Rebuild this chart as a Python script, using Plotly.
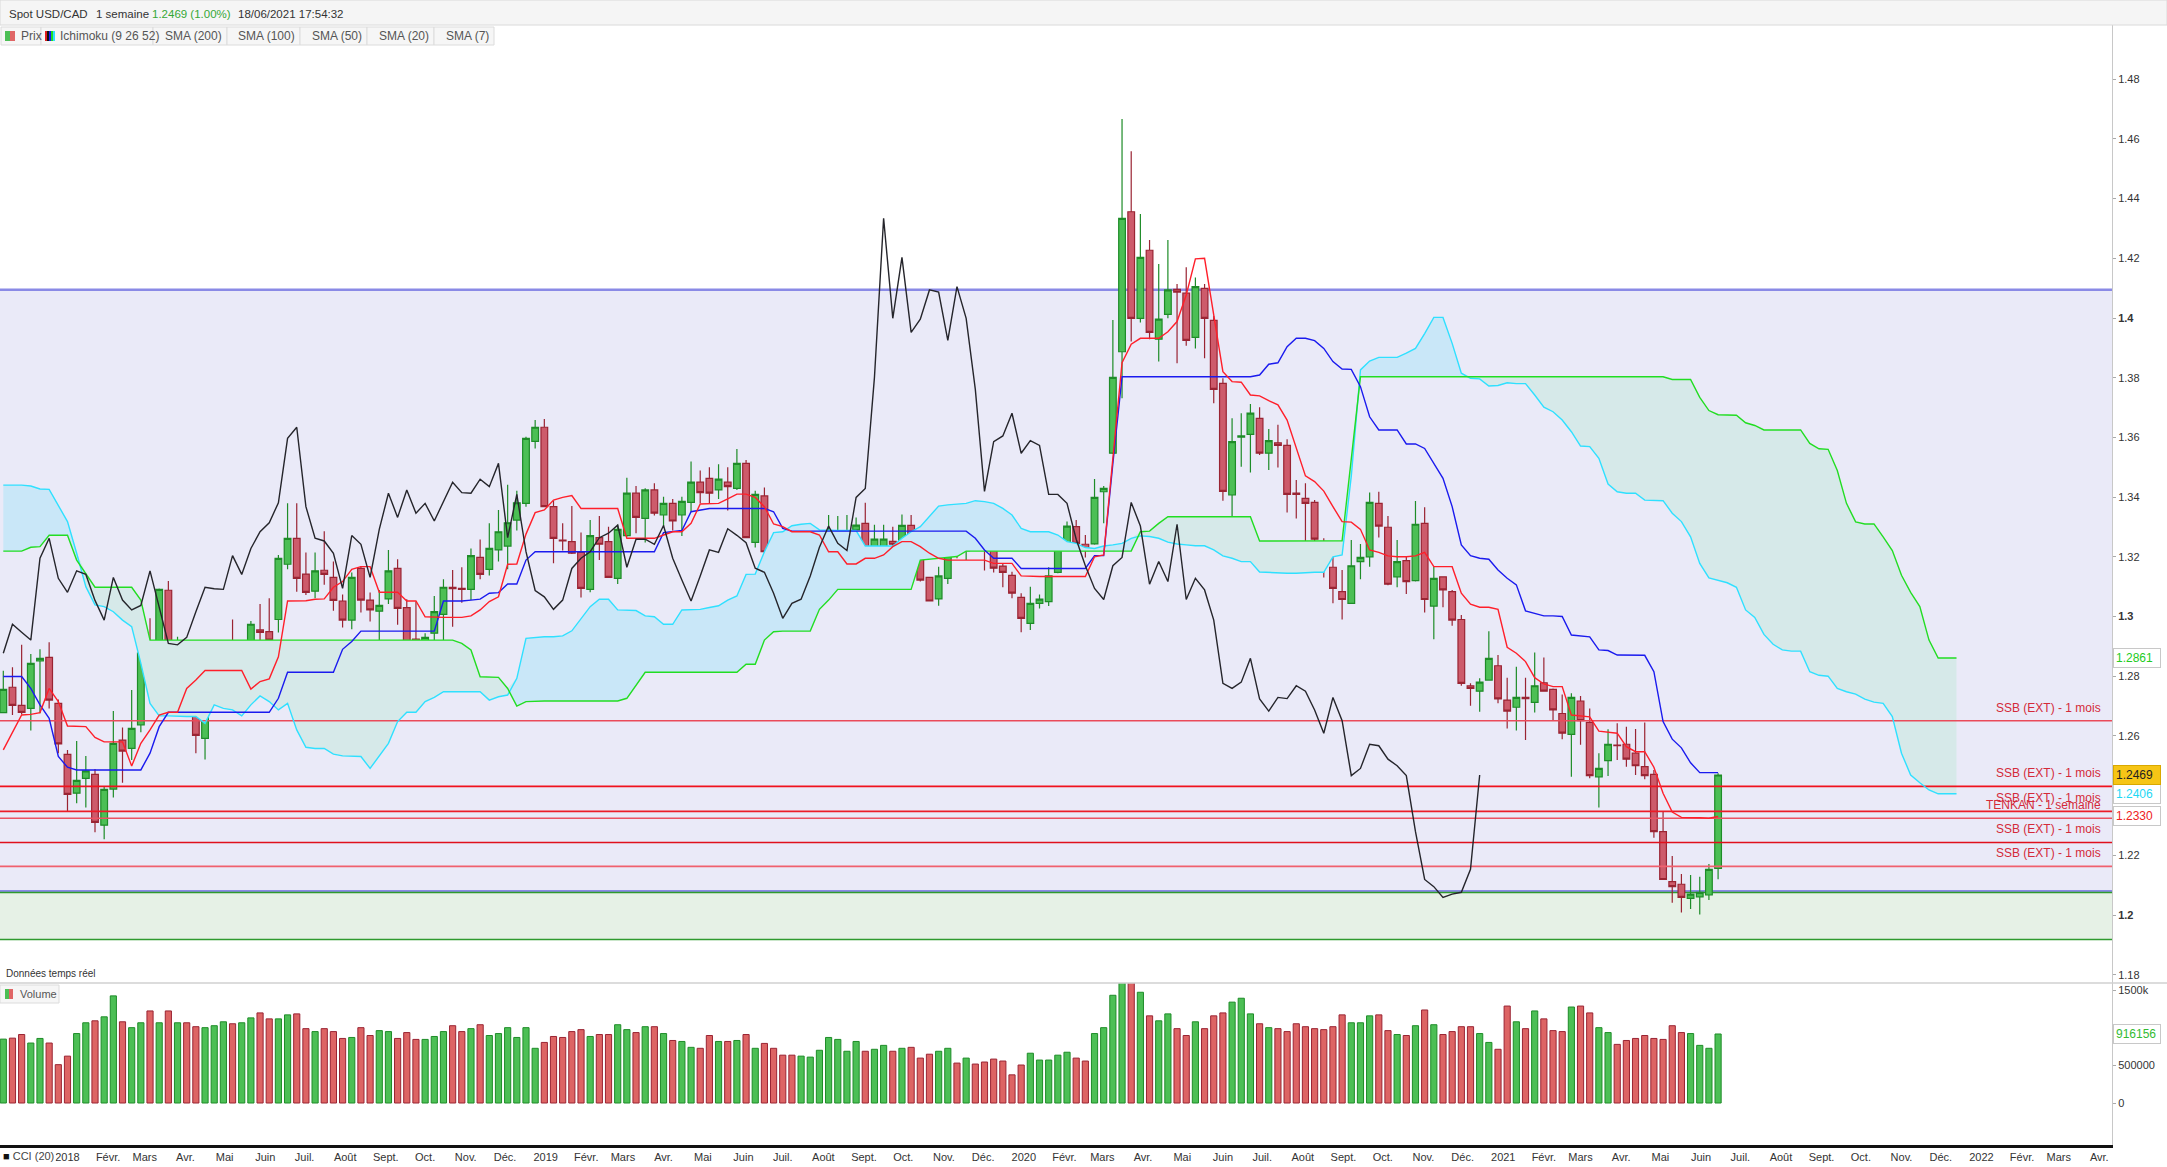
import pandas as pd
import plotly.graph_objects as go

# ---------------- DATA (weekly USD/CAD) ----------------
week_start = "2017-11-13"

opens = [1.2678,1.2763,1.2702,1.2692,1.2851,1.2863,1.2709,1.2538,1.2408,1.2458,
         1.2471,1.2301,1.2422,1.2586,1.2558,1.2637,1.2882,1.2806,1.3088,1.2877,
         1.2890,1.2759,1.2592,1.2745,1.2832,1.2843,1.2776,1.2870,1.2955,1.2949,
         1.2990,1.3175,1.3262,1.3142,1.3085,1.3155,1.3131,1.3052,1.2988,1.3161,
         1.3055,1.3018,1.3059,1.3161,1.3030,1.2924,1.2843,1.2944,1.3007,1.3098,
         1.3094,1.3091,1.3198,1.3158,1.3223,1.3236,1.3323,1.3379,1.3587,1.3634,
         1.3368,1.3256,1.3251,1.3215,1.3091,1.3264,1.3251,1.3128,1.3271,1.3413,
         1.3329,1.3424,1.3340,1.3379,1.3340,1.3382,1.3450,1.3463,1.3424,1.3450,
         1.3429,1.3513,1.3248,1.3404,1.3212,1.3074,1.3066,1.3027,1.3055,1.3161,
         1.3204,1.3217,1.3259,1.3290,1.3312,1.3169,1.3212,1.3252,1.3234,1.3305,
         1.3194,1.3131,1.3059,1.3128,1.3220,1.3220,1.3289,1.3272,1.3245,1.3169,
         1.3138,1.3064,1.2977,1.3044,1.3050,1.3148,1.3225,1.3301,1.3242,1.3243,
         1.3418,1.3547,1.3887,1.4356,1.3999,1.4227,1.3929,1.4012,1.4096,1.4083,
         1.3935,1.4099,1.3992,1.3781,1.3407,1.3601,1.3610,1.3664,1.3547,1.3582,
         1.3573,1.3413,1.3396,1.3382,1.3251,1.3165,1.3083,1.3044,1.3184,1.3200,
         1.3379,1.3299,1.3133,1.3187,1.3120,1.3312,1.3035,1.3133,1.3083,1.2990,
         1.2768,1.2750,1.2787,1.2835,1.2720,1.2696,1.2729,1.2712,1.2778,1.2756,
         1.2675,1.2605,1.2717,1.2645,1.2463,1.2517,1.2569,1.2572,1.2542,1.2497,
         1.2471,1.2279,1.2112,1.2103,1.2056,1.2061,1.2067,1.2156]

highs = [1.2818,1.2830,1.2905,1.2874,1.2890,1.2914,1.2722,1.2553,1.2583,1.2533,
         1.2489,1.2430,1.2683,1.2628,1.2754,1.2910,1.2994,1.3094,1.3119,1.2932,
         1.2921,1.2812,1.2765,1.2893,1.2910,1.2990,1.2919,1.2985,1.3042,1.3061,
         1.3206,1.3379,1.3379,1.3214,1.3214,1.3286,1.3184,1.3074,1.3147,1.3169,
         1.3080,1.3089,1.3223,1.3192,1.3058,1.3050,1.2944,1.3069,1.3125,1.3156,
         1.3165,1.3228,1.3258,1.3312,1.3357,1.3441,1.3421,1.3602,1.3658,1.3662,
         1.3388,1.3312,1.3370,1.3281,1.3323,1.3337,1.3301,1.3307,1.3465,1.3437,
         1.3430,1.3446,1.3401,1.3394,1.3401,1.3519,1.3489,1.3500,1.3510,1.3500,
         1.3561,1.3524,1.3421,1.3432,1.3216,1.3139,1.3139,1.3089,1.3195,1.3264,
         1.3340,1.3337,1.3340,1.3332,1.3381,1.3307,1.3307,1.3301,1.3342,1.3340,
         1.3234,1.3133,1.3167,1.3228,1.3265,1.3323,1.3312,1.3318,1.3256,1.3178,
         1.3150,1.3078,1.3100,1.3074,1.3165,1.3247,1.3318,1.3323,1.3273,1.3461,
         1.3437,1.3993,1.4667,1.4559,1.4348,1.4261,1.4181,1.4261,1.4114,1.4170,
         1.4136,1.4114,1.4007,1.3798,1.3664,1.3681,1.3712,1.3701,1.3628,1.3642,
         1.3594,1.3457,1.3446,1.3390,1.3262,1.3236,1.3156,1.3256,1.3243,1.3415,
         1.3418,1.3337,1.3256,1.3200,1.3387,1.3366,1.3167,1.3135,1.3089,1.3005,
         1.2776,1.2793,1.2951,1.2871,1.2795,1.2832,1.2795,1.2879,1.2863,1.2759,
         1.2739,1.2743,1.2734,1.2692,1.2542,1.2622,1.2642,1.2631,1.2623,1.2645,
         1.2486,1.2346,1.2198,1.2137,1.2134,1.2128,1.2171,1.2475]

lows = [1.2676,1.2670,1.2672,1.2618,1.2676,1.2692,1.2542,1.2348,1.2374,1.2360,
        1.2277,1.2254,1.2394,1.2443,1.2519,1.2612,1.2787,1.2798,1.2821,1.2810,
        1.2726,1.2542,1.2521,1.2743,1.2765,1.2726,1.2745,1.2739,1.2854,1.2852,
        1.2946,1.3158,1.3083,1.3072,1.3061,1.3106,1.3019,1.2963,1.2957,1.3013,
        1.2983,1.2882,1.3042,1.2972,1.2882,1.2843,1.2778,1.2921,1.2912,1.2966,
        1.3046,1.3055,1.3125,1.3137,1.3184,1.3158,1.3288,1.3368,1.3563,1.3366,
        1.3178,1.3221,1.3209,1.3064,1.3081,1.3189,1.3129,1.3109,1.3267,1.3279,
        1.3248,1.3338,1.3303,1.3288,1.3270,1.3351,1.3379,1.3379,1.3394,1.3355,
        1.3424,1.3262,1.3231,1.3145,1.3055,1.3035,1.3013,1.3013,1.3035,1.3100,
        1.3180,1.3180,1.3221,1.3221,1.3154,1.3128,1.3195,1.3206,1.3201,1.3167,
        1.3117,1.3050,1.3036,1.3109,1.3195,1.3189,1.3245,1.3154,1.3147,1.3098,
        1.3061,1.2947,1.2955,1.3027,1.3035,1.3145,1.3223,1.3232,1.3198,1.3240,
        1.3312,1.3544,1.3731,1.3921,1.3985,1.3929,1.3854,1.3999,1.3848,1.3907,
        1.3898,1.3865,1.3714,1.3388,1.3312,1.3502,1.3482,1.3541,1.3491,1.3499,
        1.3348,1.3328,1.3228,1.3187,1.3131,1.3044,1.2990,1.3042,1.3125,1.3167,
        1.3265,1.3105,1.3098,1.3075,1.3117,1.3013,1.2924,1.3031,1.2969,1.2768,
        1.2701,1.2681,1.2785,1.2709,1.2625,1.2618,1.2586,1.2678,1.2748,1.2653,
        1.2589,1.2463,1.2570,1.2458,1.2360,1.2466,1.2519,1.2497,1.2469,1.2455,
        1.2259,1.2117,1.2041,1.2008,1.2020,1.2002,1.2050,1.2120]

closes = [1.2756,1.2702,1.2679,1.2843,1.2860,1.2720,1.2573,1.2404,1.2451,1.2483,
          1.2310,1.2421,1.2575,1.2549,1.2625,1.2877,1.2804,1.3091,1.2890,1.2893,
          1.2776,1.2602,1.2759,1.2823,1.2840,1.2789,1.2877,1.2974,1.2947,1.2921,
          1.3195,1.3262,1.3128,1.3081,1.3153,1.3141,1.3054,1.2988,1.3131,1.3055,
          1.3022,1.3037,1.3153,1.3027,1.2910,1.2905,1.2930,1.3016,1.3098,1.3093,
          1.3091,1.3204,1.3141,1.3228,1.3284,1.3314,1.3381,1.3597,1.3634,1.3368,
          1.3262,1.3253,1.3212,1.3094,1.3271,1.3242,1.3131,1.3292,1.3413,1.3332,
          1.3424,1.3346,1.3379,1.3320,1.3386,1.3450,1.3415,1.3413,1.3460,1.3435,
          1.3513,1.3264,1.3409,1.3217,1.3087,1.3066,1.3024,1.3055,1.3161,1.3195,
          1.3217,1.3264,1.3279,1.3306,1.3165,1.3259,1.3259,1.3242,1.3305,1.3195,
          1.3122,1.3052,1.3136,1.3223,1.3215,1.3294,1.3272,1.3247,1.3162,1.3148,
          1.3078,1.2994,1.3044,1.3058,1.3136,1.3232,1.3303,1.3245,1.3221,1.3399,
          1.3429,1.3801,1.4334,1.3999,1.4203,1.3952,1.3996,1.4094,1.4087,1.3925,
          1.4105,1.3999,1.3761,1.3419,1.3586,1.3605,1.3681,1.3547,1.3589,1.3573,
          1.3409,1.3409,1.3379,1.3259,1.3170,1.3094,1.3057,1.3170,1.3198,1.3382,
          1.3303,1.3108,1.3184,1.3117,1.3309,1.3057,1.3128,1.3089,1.2988,1.2776,
          1.2759,1.2780,1.2860,1.2724,1.2683,1.2729,1.2725,1.2768,1.2750,1.2687,
          1.2609,1.2729,1.2651,1.2467,1.2491,1.2572,1.2567,1.2522,1.2500,1.2467,
          1.2279,1.2119,1.2095,1.2059,1.2070,1.2076,1.2153,1.2469]

volumes = [848000,861000,909000,796000,857000,796000,509000,622000,922000,1065000,
           1091000,1144000,1422000,1078000,1000000,1065000,1222000,1065000,1222000,1065000,
           1065000,1013000,1000000,1026000,1078000,1052000,1065000,1130000,1196000,1117000,
           1117000,1170000,1183000,987000,948000,987000,948000,857000,870000,1000000,
           896000,961000,948000,857000,935000,844000,844000,883000,948000,1026000,
           948000,987000,1039000,896000,922000,1000000,870000,1000000,726000,804000,
           883000,870000,948000,974000,883000,909000,909000,1039000,974000,935000,
           1013000,1013000,922000,830000,817000,739000,726000,896000,817000,817000,
           830000,909000,726000,791000,726000,635000,635000,622000,609000,700000,
           870000,844000,687000,817000,687000,713000,765000,687000,726000,739000,
           596000,648000,687000,726000,530000,596000,517000,544000,583000,557000,
           374000,504000,661000,570000,570000,635000,674000,596000,557000,922000,
           1000000,1430000,1700000,1680000,1470000,1157000,1091000,1183000,987000,896000,
           1078000,987000,1157000,1196000,1339000,1391000,1183000,1052000,1000000,987000,
           948000,1052000,1013000,987000,974000,1013000,1170000,1065000,1065000,1157000,
           1170000,961000,909000,896000,1026000,1235000,1039000,909000,948000,1013000,
           1013000,922000,804000,713000,1287000,1078000,987000,1222000,1117000,961000,
           948000,1274000,1287000,1196000,1000000,935000,778000,830000,857000,896000,
           857000,844000,1026000,935000,922000,765000,726000,916156]

tenkan = [1.2553,1.2614,1.2670,1.2672,1.2678,1.2759,1.2715,1.2633,1.2633,1.2631,
          1.2595,1.2580,1.2580,1.2580,1.2499,1.2575,1.2620,1.2670,1.2679,1.2679,
          1.2759,1.2787,1.2819,1.2819,1.2819,1.2819,1.2819,1.2757,1.2782,1.2791,
          1.2865,1.3052,1.3053,1.3053,1.3058,1.3059,1.3098,1.3117,1.3158,1.3167,
          1.3167,1.3081,1.3081,1.3081,1.3052,1.3052,1.2999,1.2997,1.2997,1.2997,
          1.2997,1.3002,1.3022,1.3050,1.3066,1.3175,1.3176,1.3276,1.3348,1.3357,
          1.3390,1.3399,1.3405,1.3362,1.3362,1.3362,1.3362,1.3362,1.3262,1.3262,
          1.3262,1.3262,1.3273,1.3284,1.3284,1.3312,1.3377,1.3379,1.3379,1.3394,
          1.3410,1.3410,1.3399,1.3368,1.3310,1.3301,1.3284,1.3284,1.3284,1.3273,
          1.3217,1.3217,1.3176,1.3176,1.3195,1.3195,1.3206,1.3234,1.3251,1.3251,
          1.3234,1.3212,1.3195,1.3189,1.3189,1.3189,1.3189,1.3189,1.3178,1.3178,
          1.3178,1.3136,1.3134,1.3134,1.3134,1.3134,1.3134,1.3134,1.3134,1.3200,
          1.3206,1.3530,1.3850,1.3912,1.3932,1.3932,1.3932,1.3954,1.3988,1.4077,
          1.4198,1.4200,1.4004,1.3820,1.3787,1.3785,1.3742,1.3739,1.3723,1.3709,
          1.3658,1.3563,1.3471,1.3452,1.3420,1.3368,1.3318,1.3316,1.3292,1.3223,
          1.3215,1.3203,1.3200,1.3200,1.3203,1.3215,1.3167,1.3167,1.3167,1.3078,
          1.3041,1.3031,1.3031,1.3024,1.2897,1.2877,1.2849,1.2795,1.2774,1.2765,
          1.2765,1.2670,1.2667,1.2664,1.2616,1.2612,1.2609,1.2564,1.2547,1.2547,
          1.2495,1.2408,1.2345,1.2327,1.2327,1.2326,1.2324,1.2330]

kijun = [1.2799,1.2799,1.2799,1.2759,1.2704,1.2659,1.2531,1.2495,1.2486,1.2486,
         1.2486,1.2486,1.2486,1.2486,1.2486,1.2486,1.2542,1.2631,1.2679,1.2679,
         1.2679,1.2679,1.2679,1.2679,1.2679,1.2679,1.2679,1.2679,1.2679,1.2679,
         1.2726,1.2813,1.2813,1.2813,1.2813,1.2813,1.2813,1.2890,1.2916,1.2951,
         1.2951,1.2951,1.2951,1.2951,1.2951,1.2951,1.2951,1.2951,1.3052,1.3052,
         1.3052,1.3055,1.3058,1.3078,1.3080,1.3109,1.3109,1.3189,1.3217,1.3217,
         1.3217,1.3217,1.3217,1.3217,1.3217,1.3217,1.3217,1.3217,1.3217,1.3217,
         1.3217,1.3217,1.3281,1.3284,1.3288,1.3351,1.3357,1.3362,1.3362,1.3362,
         1.3362,1.3362,1.3362,1.3362,1.3351,1.3295,1.3286,1.3286,1.3286,1.3286,
         1.3286,1.3286,1.3286,1.3286,1.3286,1.3286,1.3286,1.3286,1.3286,1.3286,
         1.3286,1.3286,1.3286,1.3286,1.3286,1.3286,1.3262,1.3223,1.3195,1.3195,
         1.3195,1.3161,1.3161,1.3161,1.3161,1.3161,1.3161,1.3161,1.3161,1.3204,
         1.3204,1.3513,1.3803,1.3803,1.3803,1.3803,1.3803,1.3803,1.3803,1.3803,
         1.3803,1.3803,1.3803,1.3803,1.3803,1.3803,1.3803,1.3809,1.3845,1.3850,
         1.3904,1.3932,1.3932,1.3924,1.3898,1.3854,1.3829,1.3828,1.3770,1.3669,
         1.3625,1.3625,1.3625,1.3578,1.3578,1.3563,1.3513,1.3463,1.3368,1.3240,
         1.3204,1.3195,1.3192,1.3156,1.3128,1.3106,1.3019,1.3011,1.3002,1.3002,
         1.3000,1.2938,1.2936,1.2932,1.2888,1.2886,1.2871,1.2870,1.2870,1.2870,
         1.2815,1.2648,1.2589,1.2560,1.2510,1.2477,1.2477,1.2477]

senkou_a = [1.3440,1.3440,1.3440,1.3437,1.3427,1.3426,1.3374,1.3318,1.3212,1.3100,
            1.3039,1.3033,1.3016,1.2988,1.2966,1.2843,1.2709,1.2667,1.2667,1.2665,
            1.2665,1.2665,1.2642,1.2704,1.2692,1.2687,1.2667,1.2704,1.2734,1.2715,
            1.2687,1.2709,1.2620,1.2562,1.2558,1.2558,1.2539,1.2533,1.2533,1.2531,
            1.2491,1.2531,1.2575,1.2648,1.2679,1.2679,1.2715,1.2729,1.2748,1.2748,
            1.2748,1.2748,1.2748,1.2720,1.2731,1.2737,1.2793,1.2927,1.2930,1.2932,
            1.2932,1.2935,1.2952,1.2994,1.3033,1.3058,1.3058,1.3022,1.3020,1.3020,
            1.3002,1.2999,1.2974,1.2974,1.3022,1.3024,1.3024,1.3030,1.3036,1.3055,
            1.3069,1.3141,1.3142,1.3217,1.3281,1.3284,1.3304,1.3309,1.3312,1.3290,
            1.3288,1.3288,1.3288,1.3288,1.3236,1.3236,1.3236,1.3236,1.3262,1.3284,
            1.3301,1.3334,1.3370,1.3374,1.3376,1.3379,1.3388,1.3385,1.3379,1.3362,
            1.3340,1.3295,1.3284,1.3284,1.3284,1.3273,1.3251,1.3245,1.3231,1.3228,
            1.3236,1.3240,1.3245,1.3262,1.3270,1.3268,1.3262,1.3249,1.3243,1.3240,
            1.3237,1.3237,1.3223,1.3203,1.3195,1.3184,1.3184,1.3149,1.3147,1.3147,
            1.3145,1.3145,1.3147,1.3148,1.3148,1.3200,1.3206,1.3470,1.3826,1.3856,
            1.3868,1.3868,1.3868,1.3882,1.3898,1.3948,1.4002,1.4002,1.3915,1.3815,
            1.3798,1.3796,1.3772,1.3774,1.3783,1.3780,1.3780,1.3742,1.3701,1.3686,
            1.3658,1.3619,1.3571,1.3569,1.3530,1.3444,1.3418,1.3413,1.3413,1.3390,
            1.3390,1.3388,1.3346,1.3318,1.3267,1.3178,1.3129,1.3120,1.3113,1.3098,
            1.3022,1.2997,1.2940,1.2907,1.2888,1.2884,1.2884,1.2815,1.2803,1.2800,
            1.2759,1.2748,1.2740,1.2723,1.2713,1.2709,1.2665,1.2542,1.2469,1.2443,
            1.2419,1.2406,1.2406,1.2406]

senkou_b = [1.3219,1.3219,1.3219,1.3232,1.3234,1.3272,1.3272,1.3272,1.3189,1.3145,
            1.3098,1.3098,1.3098,1.3098,1.3098,1.3055,1.2921,1.2921,1.2921,1.2921,
            1.2921,1.2921,1.2921,1.2921,1.2921,1.2921,1.2921,1.2921,1.2921,1.2921,
            1.2921,1.2921,1.2921,1.2921,1.2921,1.2921,1.2921,1.2921,1.2921,1.2921,
            1.2921,1.2921,1.2921,1.2921,1.2921,1.2921,1.2921,1.2921,1.2921,1.2921,
            1.2910,1.2888,1.2798,1.2798,1.2796,1.2759,1.2700,1.2715,1.2717,1.2717,
            1.2717,1.2717,1.2717,1.2717,1.2717,1.2717,1.2717,1.2717,1.2726,1.2771,
            1.2813,1.2813,1.2813,1.2813,1.2813,1.2813,1.2813,1.2813,1.2813,1.2813,
            1.2813,1.2840,1.2840,1.2921,1.2949,1.2951,1.2951,1.2951,1.2951,1.3024,
            1.3055,1.3091,1.3091,1.3091,1.3091,1.3091,1.3091,1.3091,1.3091,1.3091,
            1.3189,1.3192,1.3195,1.3198,1.3201,1.3219,1.3219,1.3219,1.3219,1.3219,
            1.3219,1.3219,1.3219,1.3219,1.3219,1.3219,1.3219,1.3219,1.3219,1.3219,
            1.3219,1.3219,1.3219,1.3219,1.3284,1.3286,1.3312,1.3334,1.3334,1.3334,
            1.3334,1.3334,1.3334,1.3334,1.3334,1.3334,1.3334,1.3253,1.3253,1.3253,
            1.3254,1.3254,1.3254,1.3254,1.3254,1.3254,1.3254,1.3528,1.3803,1.3803,
            1.3803,1.3803,1.3803,1.3803,1.3803,1.3803,1.3803,1.3803,1.3803,1.3803,
            1.3803,1.3803,1.3803,1.3803,1.3803,1.3803,1.3803,1.3803,1.3803,1.3803,
            1.3803,1.3803,1.3803,1.3803,1.3803,1.3803,1.3803,1.3803,1.3803,1.3803,
            1.3803,1.3803,1.3794,1.3794,1.3794,1.3734,1.3690,1.3676,1.3674,1.3674,
            1.3649,1.3640,1.3625,1.3625,1.3625,1.3625,1.3625,1.3580,1.3562,1.3560,
            1.3489,1.3379,1.3317,1.3310,1.3310,1.3267,1.3221,1.3138,1.3081,1.3033,
            1.2921,1.2861,1.2861,1.2861]

level_values = [1.2651, 1.2431, 1.2347, 1.2324, 1.2243, 1.2163]
level_labels = ["SSB (EXT) - 1 mois", "SSB (EXT) - 1 mois", "SSB (EXT) - 1 mois",
                "TENKAN - 1 semaine", "SSB (EXT) - 1 mois", "SSB (EXT) - 1 mois"]
level_colors = ["#ea4b5a", "#f0121e", "#ec1c28", "#ec5262", "#e0101c", "#f0606e"]

zone_top = 1.4095
zone_low = 1.2080
green_top = 1.2075
green_bottom = 1.1918

price_ticks = [1.18, 1.20, 1.22, 1.24, 1.26, 1.28, 1.30, 1.32, 1.34, 1.36, 1.38, 1.40, 1.42, 1.44, 1.46, 1.48]
price_tick_text = ["1.18", "<b>1.2</b>", "1.22", "1.24", "1.26", "1.28", "<b>1.3</b>", "1.32", "1.34",
                   "1.36", "1.38", "<b>1.4</b>", "1.42", "1.44", "1.46", "1.48"]
vol_ticks = [0, 500000, 1000000, 1500000]
vol_tick_text = ["0", "500000", "1000k", "1500k"]
months_fr = ["Janv.", "Févr.", "Mars", "Avr.", "Mai", "Juin", "Juil.", "Août", "Sept.", "Oct.", "Nov.", "Déc."]
chikou_shift = 26

header_parts = [("Spot USD/CAD", "#333333"), ("1 semaine", "#333333"),
                ("1.2469 (1.00%)", "#35a835"), ("18/06/2021 17:54:32", "#333333")]
header_x = [7, 94, 150, 236]

# ---------------- LAYOUT GEOMETRY (pixels) ----------------
W, H = 2167, 1167
PW, PH = 2112, 1145          # plot area (margin l=0,t=0,r=55,b=22)
SPLIT = 983                  # price / volume panel boundary
PX_PER_UNIT = 2985.0
Y148 = 79.2                  # pixel row of 1.48
PX_PER_DAY = 1.31
FIRST_X = 3.3                # pixel of first candle


def fx(px):
    return px / PW


def fy(py):
    return (PH - py) / PH


def price_at(py):
    return 1.48 - (py - Y148) / PX_PER_UNIT


start = pd.Timestamp(week_start)
dates = pd.date_range(start, periods=len(opens), freq="7D")
cloud_dates = pd.date_range(start, periods=len(senkou_a), freq="7D")
x_lo = start - pd.Timedelta(days=FIRST_X / PX_PER_DAY)
x_hi = start + pd.Timedelta(days=(PW - FIRST_X) / PX_PER_DAY)

tick_dates = pd.date_range("2017-12-01", "2022-04-01", freq="MS")
tick_text = [str(d.year) if d.month == 1 else months_fr[d.month - 1] for d in tick_dates]

UP_FILL, UP_LINE = "#4cbf55", "#1e8c28"
DN_FILL, DN_LINE = "#cd5b6b", "#9a2433"

fig = go.Figure()

# cloud fills
upper = [max(a, b) for a, b in zip(senkou_a, senkou_b)]
fig.add_trace(go.Scatter(x=cloud_dates, y=senkou_b, mode="lines", line=dict(width=0),
                         hoverinfo="skip", showlegend=False))
fig.add_trace(go.Scatter(x=cloud_dates, y=upper, mode="lines", line=dict(width=0), fill="tonexty",
                         fillcolor="#c9e7f8", hoverinfo="skip", showlegend=False))
fig.add_trace(go.Scatter(x=cloud_dates, y=senkou_a, mode="lines", line=dict(width=0),
                         hoverinfo="skip", showlegend=False))
fig.add_trace(go.Scatter(x=cloud_dates, y=upper, mode="lines", line=dict(width=0), fill="tonexty",
                         fillcolor="#d6e9e9", hoverinfo="skip", showlegend=False))

# horizontal levels
for v, c in zip(level_values, level_colors):
    fig.add_trace(go.Scatter(x=[x_lo, x_hi], y=[v, v], mode="lines", line=dict(color=c, width=1.6),
                             hoverinfo="skip", showlegend=False))

# candles
fig.add_trace(go.Candlestick(
    x=dates, open=opens, high=highs, low=lows, close=closes,
    increasing=dict(fillcolor=UP_FILL, line=dict(color=UP_LINE, width=1.2)),
    decreasing=dict(fillcolor=DN_FILL, line=dict(color=DN_LINE, width=1.2)),
    whiskerwidth=0, showlegend=False, hoverinfo="skip"))

# ichimoku lines
fig.add_trace(go.Scatter(x=cloud_dates, y=senkou_a, mode="lines", line=dict(color="#2fe0ff", width=1.4),
                         hoverinfo="skip", showlegend=False))
fig.add_trace(go.Scatter(x=cloud_dates, y=senkou_b, mode="lines", line=dict(color="#22dd22", width=1.4),
                         hoverinfo="skip", showlegend=False))
fig.add_trace(go.Scatter(x=dates, y=kijun, mode="lines", line=dict(color="#1a1aee", width=1.4),
                         hoverinfo="skip", showlegend=False))
fig.add_trace(go.Scatter(x=dates, y=tenkan, mode="lines", line=dict(color="#ff1f2a", width=1.4),
                         hoverinfo="skip", showlegend=False))
fig.add_trace(go.Scatter(x=dates[:len(closes) - chikou_shift], y=closes[chikou_shift:], mode="lines",
                         line=dict(color="#25252b", width=1.4), hoverinfo="skip", showlegend=False))

# volume
up = [c >= o for o, c in zip(opens, closes)]
fig.add_trace(go.Bar(
    x=dates, y=volumes, yaxis="y2", width=4.7 * 86400000,
    marker=dict(color=[UP_FILL if u else "#dd6464" for u in up],
                line=dict(color=[UP_LINE if u else DN_LINE for u in up], width=1)),
    hoverinfo="skip", showlegend=False))

# ---------------- shapes ----------------
shapes = [
    dict(type="rect", xref="paper", yref="y", x0=0, x1=1, y0=zone_low, y1=zone_top,
         fillcolor="#eaeaf8", line=dict(width=0), layer="below"),
    dict(type="line", xref="paper", yref="y", x0=0, x1=1, y0=zone_top, y1=zone_top,
         line=dict(color="#8a8ae6", width=2.5), layer="below"),
    dict(type="line", xref="paper", yref="y", x0=0, x1=1, y0=zone_low, y1=zone_low,
         line=dict(color="#8a8ae6", width=2), layer="below"),
    dict(type="rect", xref="paper", yref="y", x0=0, x1=1, y0=green_bottom, y1=green_top,
         fillcolor="#e6f1e6", line=dict(width=0), layer="below"),
    dict(type="line", xref="paper", yref="y", x0=0, x1=1, y0=green_top, y1=green_top,
         line=dict(color="#2f9a2f", width=1.5), layer="below"),
    dict(type="line", xref="paper", yref="y", x0=0, x1=1, y0=green_bottom, y1=green_bottom,
         line=dict(color="#2f9a2f", width=1.5), layer="below"),
    # panel separator
    dict(type="line", xref="paper", yref="paper", x0=0, x1=W / PW, y0=fy(SPLIT), y1=fy(SPLIT),
         line=dict(color="#d0d0d0", width=1.5)),
    # header band
    dict(type="rect", xref="paper", yref="paper", x0=0, x1=W / PW, y0=fy(25), y1=1,
         fillcolor="#f5f5f5", line=dict(color="#dadada", width=1)),
]

legend_boxes = [(1, 41), (41, 153), (153, 227), (227, 300), (300, 367), (367, 434), (434, 494)]
for a, b in legend_boxes:
    shapes.append(dict(type="rect", xref="paper", yref="paper", x0=fx(a), x1=fx(b), y0=fy(45), y1=fy(27),
                       fillcolor="#f6f6f6", line=dict(color="#dcdcdc", width=1)))
# icons
shapes.append(dict(type="rect", xref="paper", yref="paper", x0=fx(5), x1=fx(10), y0=fy(41), y1=fy(31),
                   fillcolor=UP_FILL, line=dict(width=0)))
shapes.append(dict(type="rect", xref="paper", yref="paper", x0=fx(10), x1=fx(15), y0=fy(41), y1=fy(31),
                   fillcolor="#e06666", line=dict(width=0)))
for k, col in enumerate(["#e02020", "#111111", "#1a1aee", "#22dd22", "#2fe0ff"]):
    shapes.append(dict(type="rect", xref="paper", yref="paper", x0=fx(45 + 2 * k), x1=fx(47 + 2 * k),
                       y0=fy(41), y1=fy(31), fillcolor=col, line=dict(width=0)))
# volume legend
shapes.append(dict(type="rect", xref="paper", yref="paper", x0=fx(0), x1=fx(59), y0=fy(1003), y1=fy(985),
                   fillcolor="#f6f6f6", line=dict(color="#dcdcdc", width=1)))
shapes.append(dict(type="rect", xref="paper", yref="paper", x0=fx(5), x1=fx(9), y0=fy(999), y1=fy(989),
                   fillcolor=UP_FILL, line=dict(width=0)))
shapes.append(dict(type="rect", xref="paper", yref="paper", x0=fx(9), x1=fx(13), y0=fy(999), y1=fy(989),
                   fillcolor="#e06666", line=dict(width=0)))

# ---------------- annotations ----------------
FONT = "Liberation Sans, Arial, sans-serif"
ann = []
for (t, col), hx in zip(header_parts, header_x):
    ann.append(dict(xref="paper", yref="paper", x=fx(hx), y=fy(14), xanchor="left", yanchor="middle",
                    showarrow=False, text=t, font=dict(family=FONT, size=11.5, color=col)))
ann.append(dict(xref="paper", yref="paper", x=fx(19), y=fy(36), xanchor="left", yanchor="middle",
                showarrow=False, text="Prix", font=dict(family=FONT, size=12, color="#555555")))
ann.append(dict(xref="paper", yref="paper", x=fx(58), y=fy(36), xanchor="left", yanchor="middle",
                showarrow=False, text="Ichimoku (9 26 52)", font=dict(family=FONT, size=12, color="#555555")))
for (a, b), t in zip(legend_boxes[2:], ["SMA (200)", "SMA (100)", "SMA (50)", "SMA (20)", "SMA (7)"]):
    ann.append(dict(xref="paper", yref="paper", x=fx(b - 3), y=fy(36), xanchor="right", yanchor="middle",
                    showarrow=False, text=t, font=dict(family=FONT, size=12, color="#555555")))
ann.append(dict(xref="paper", yref="paper", x=fx(4), y=fy(973), xanchor="left", yanchor="middle",
                showarrow=False, text="Données temps réel", font=dict(family=FONT, size=10, color="#333333")))
ann.append(dict(xref="paper", yref="paper", x=fx(18), y=fy(994), xanchor="left", yanchor="middle",
                showarrow=False, text="Volume", font=dict(family=FONT, size=11, color="#555555")))
# CCI (20) legend sits over the first month label, as in the source
ann.append(dict(xref="paper", yref="paper", x=fx(1), y=fy(1156), xanchor="left", yanchor="middle",
                showarrow=False, text="<span style='color:#111111'>&#9632;</span> CCI (20)",
                bgcolor="#ffffff", borderpad=1,
                font=dict(family=FONT, size=11, color="#444444")))

for v, t in zip(level_values, level_labels):
    ann.append(dict(xref="paper", yref="y", x=fx(2103), y=v, xanchor="right", yanchor="middle", yshift=13,
                    showarrow=False, text=t, font=dict(family=FONT, size=12, color="#d42a3a")))

def value_box(y, yref, text, color, bg="#ffffff", border="#c8c8c8"):
    return dict(xref="paper", yref=yref, x=1.0, y=y, xanchor="left", yanchor="middle", xshift=1,
                showarrow=False, text=text, bgcolor=bg, bordercolor=border, borderwidth=1, borderpad=2,
                width=42, align="left", font=dict(family=FONT, size=12, color=color))

ann.append(value_box(senkou_b[-1], "y", f"{senkou_b[-1]:.4f}", "#22cc22"))
ann.append(value_box(senkou_a[-1], "y", f"{senkou_a[-1]:.4f}", "#1ed8f5"))
ann.append(value_box(tenkan[-1], "y", f"{tenkan[-1]:.4f}", "#ee2222"))
ann.append(value_box(closes[-1], "y", f"{closes[-1]:.4f}", "#222222", bg="#f6c516", border="#d9a800"))
ann.append(value_box(volumes[-1], "y2", f"{volumes[-1]}", "#33bb33"))

fig.update_layout(
    width=W, height=H, autosize=False,
    margin=dict(l=0, r=W - PW, t=0, b=H - PH),
    paper_bgcolor="white", plot_bgcolor="white",
    showlegend=False, hovermode=False,
    boxgap=0.27, boxgroupgap=0,
    font=dict(family=FONT, size=11, color="#333333"),
    xaxis=dict(type="date", range=[x_lo, x_hi], domain=[0, 1], anchor="y2",
               tickmode="array", tickvals=tick_dates, ticktext=tick_text,
               tickfont=dict(family=FONT, size=11, color="#333333"),
               showgrid=False, zeroline=False, showline=True, linecolor="#111111", linewidth=3,
               ticks="", rangeslider=dict(visible=False), fixedrange=True),
    yaxis=dict(domain=[fy(SPLIT), 1], range=[price_at(SPLIT), price_at(0)], side="right", anchor="x",
               tickmode="array", tickvals=price_ticks, ticktext=price_tick_text,
               tickfont=dict(family=FONT, size=11, color="#333333"),
               ticks="outside", ticklen=3, tickcolor="#aaaaaa",
               showgrid=False, zeroline=False, showline=True, linecolor="#c8c8c8", linewidth=1,
               fixedrange=True),
    yaxis2=dict(domain=[0, fy(SPLIT)], range=[-(PH - 1103) / 75.33 * 1e6, (1103 - SPLIT) / 75.33 * 1e6],
                side="right", anchor="x",
                tickmode="array", tickvals=vol_ticks, ticktext=vol_tick_text,
                tickfont=dict(family=FONT, size=11, color="#333333"),
                ticks="outside", ticklen=3, tickcolor="#aaaaaa",
                showgrid=False, zeroline=False, showline=True, linecolor="#c8c8c8", linewidth=1,
                fixedrange=True),
    shapes=shapes, annotations=ann,
)

fig.write_html("out.html", config={"displayModeBar": False},
               post_script="document.body.style.margin='0';document.body.style.overflow='hidden';")
